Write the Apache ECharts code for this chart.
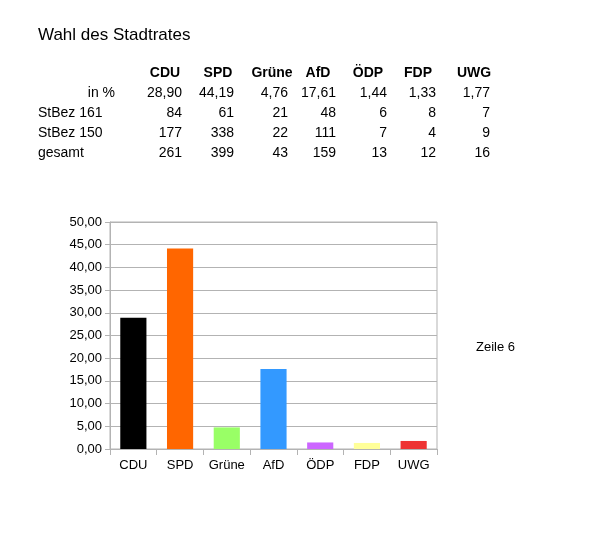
<!DOCTYPE html>
<html><head><meta charset="utf-8">
<script src="https://cdn.jsdelivr.net/npm/echarts@6/dist/echarts.min.js"></script>
<style>
body{margin:0;background:#fff;font-family:"Liberation Sans",Arial,sans-serif;}
#t{position:absolute;left:0;top:0;width:600px;height:200px;font-size:14px;color:#000}
.c{position:absolute;white-space:nowrap}
#chart{position:absolute;left:0;top:0;width:600px;height:537px}
</style></head><body>
<div id="chart"></div>
<div id="t"></div>
<script>
const parties=["CDU","SPD","Grüne","AfD","ÖDP","FDP","UWG"];
const percent=[28.90,44.19,4.76,17.61,1.44,1.33,1.77];
const stbez161=[84,61,21,48,6,8,7];
const stbez150=[177,338,22,111,7,4,9];
const gesamt=[261,399,43,159,13,12,16];
const rowLabels=["in %","StBez 161","StBez 150","gesamt"];
const colors=["#000000","#ff6600","#99ff66","#3399ff","#cc66ff","#ffff99","#ee3333"];

const t=document.getElementById('t');
function put(txt,x,y,opts){const d=document.createElement('div');d.className='c';d.textContent=txt;
 d.style.top=(y-9)+'px';
 if(opts&&opts.right){d.style.right=(600-x)+'px';}else if(opts&&opts.center){d.style.left=(x-40)+'px';d.style.width='80px';d.style.textAlign='center';}else d.style.left=x+'px';
 if(opts&&opts.bold)d.style.fontWeight='bold';if(opts&&opts.size)d.style.fontSize=opts.size+'px';t.appendChild(d);}
put("Wahl des Stadtrates",38,34,{size:17});
const hx=[165,218,272,318,368,418,474];
const rx=[182,234,288,336,387,436,490];
parties.forEach((p,i)=>put(p,hx[i],73,{center:true,bold:true}));
const rows=[percent.map(v=>v.toFixed(2).replace('.',',')),stbez161,stbez150,gesamt];
rowLabels.forEach((l,r)=>{const y=93+r*20;
 if(r===0)put(l,115,y,{right:true});else put(l,38,y);
 rows[r].forEach((v,i)=>put(String(v),rx[i],y,{right:true}));});

const ch=echarts.init(document.getElementById('chart'));
ch.setOption({
 animation:false,
 grid:{left:110,top:222,width:327,height:227,show:true,borderColor:'#b3b3b3',borderWidth:1},
 legend:{show:true,right:80,top:335,orient:'vertical',icon:'none',itemWidth:0,data:[{name:'Zeile 6'}],textStyle:{fontSize:13,color:'#000',fontFamily:'Liberation Sans'}},
 xAxis:{type:'category',data:parties,axisLine:{lineStyle:{color:'#b3b3b3'}},axisTick:{show:true,length:6,interval:0,lineStyle:{color:'#b3b3b3'}},
  axisLabel:{color:'#000',fontSize:13,interval:0,fontFamily:'Liberation Sans',margin:10}},
 yAxis:{type:'value',min:0,max:50,interval:5,axisLine:{show:true,lineStyle:{color:'#b3b3b3'}},axisTick:{show:true,length:5,lineStyle:{color:'#b3b3b3'}},
  splitLine:{lineStyle:{color:'#b3b3b3'}},
  axisLabel:{color:'#000',fontSize:13,fontFamily:'Liberation Sans',formatter:v=>v.toFixed(2).replace('.',',')}},
 series:[{name:'Zeile 6',type:'bar',barWidth:'56%',data:percent.map((v,i)=>({value:v,itemStyle:{color:colors[i]}}))}]
});
</script></body></html>
